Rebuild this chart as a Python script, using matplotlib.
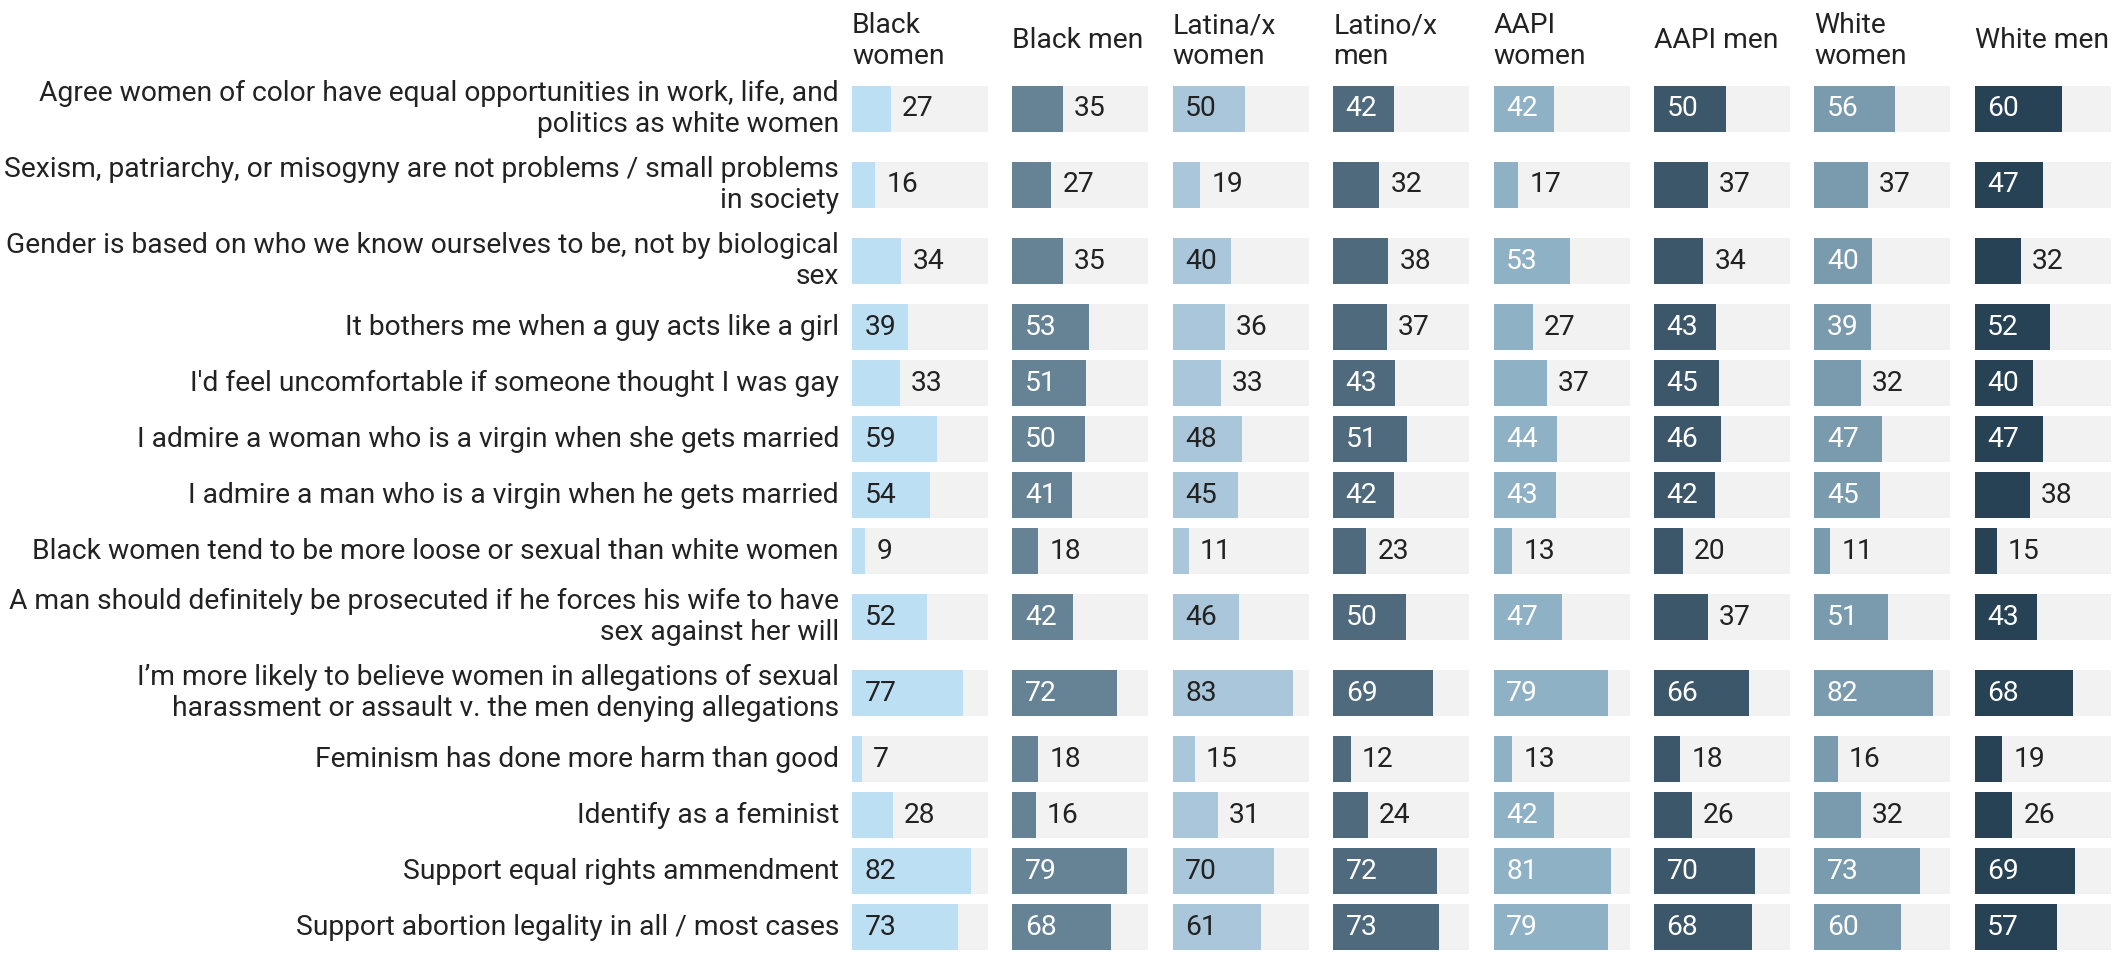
import matplotlib
matplotlib.use("Agg")
import matplotlib.pyplot as plt
import matplotlib.transforms as mtransforms

plt.rcParams['font.family'] = ['Roboto', 'DejaVu Sans']

# ---------------- data ----------------
statements = [
    "Agree women of color have equal opportunities in work, life, and\npolitics as white women",
    "Sexism, patriarchy, or misogyny are not problems / small problems\nin society",
    "Gender is based on who we know ourselves to be, not by biological\nsex",
    "It bothers me when a guy acts like a girl",
    "I'd feel uncomfortable if someone thought I was gay",
    "I admire a woman who is a virgin when she gets married",
    "I admire a man who is a virgin when he gets married",
    "Black women tend to be more loose or sexual than white women",
    "A man should definitely be prosecuted if he forces his wife to have\nsex against her will",
    "I\u2019m more likely to believe women in allegations of sexual\nharassment or assault v. the men denying allegations",
    "Feminism has done more harm than good",
    "Identify as a feminist",
    "Support equal rights ammendment",
    "Support abortion legality in all / most cases",
]

groups = ["Black\nwomen", "Black men", "Latina/x\nwomen", "Latino/x\nmen",
          "AAPI\nwomen", "AAPI men", "White\nwomen", "White men"]

black_women = [27, 16, 34, 39, 33, 59, 54, 9, 52, 77, 7, 28, 82, 73]
black_men = [35, 27, 35, 53, 51, 50, 41, 18, 42, 72, 18, 16, 79, 68]
latina_women = [50, 19, 40, 36, 33, 48, 45, 11, 46, 83, 15, 31, 70, 61]
latino_men = [42, 32, 38, 37, 43, 51, 42, 23, 50, 69, 12, 24, 72, 73]
aapi_women = [42, 17, 53, 27, 37, 44, 43, 13, 47, 79, 13, 42, 81, 79]
aapi_men = [50, 37, 34, 43, 45, 46, 42, 20, 37, 66, 18, 26, 70, 68]
white_women = [56, 37, 40, 39, 32, 47, 45, 11, 51, 82, 16, 32, 73, 60]
white_men = [60, 47, 32, 52, 40, 47, 38, 15, 43, 68, 19, 26, 69, 57]

series = [black_women, black_men, latina_women, latino_men,
          aapi_women, aapi_men, white_women, white_men]

colors = ["#bddff4", "#668396", "#a9c6da", "#4f6a7d",
          "#8fb1c5", "#3d576a", "#7a9aae", "#274254"]
inside_text = ["#222222", "#ffffff", "#222222", "#ffffff",
               "#ffffff", "#ffffff", "#ffffff", "#ffffff"]

# ---------------- layout ----------------
W, H = 2114, 955
DPI = 100
fig = plt.figure(figsize=(W / DPI, H / DPI), dpi=DPI)
fig.patch.set_facecolor("white")

XMAX = 94
FS = 20.3
TXT = "#222222"
LS = 1.15

# row positions (pixel-like units, top = 0)
row_h = [76 if "\n" in s else 56 for s in statements]
centers = []
c = 109.0
for i, h in enumerate(row_h):
    if i > 0:
        c += (row_h[i - 1] + h) / 2.0
    centers.append(c)
BAR_H = 46.5

col_left0 = 852
col_step = 160.4
col_w = 136

axes = []
for j, (grp, vals) in enumerate(zip(groups, series)):
    left = col_left0 + j * col_step
    ax = fig.add_axes([left / W, 0, col_w / W, 1])
    ax.set_xlim(0, XMAX)
    ax.set_ylim(H, 0)
    ax.axis("off")
    ax.barh(centers, [XMAX] * len(centers), height=BAR_H, color="#f2f2f2", zorder=1)
    ax.barh(centers, vals, height=BAR_H, color=colors[j], zorder=2)
    for y, v in zip(centers, vals):
        if v >= 39:
            ax.annotate(str(v), xy=(0, y), xytext=(9, 0), textcoords="offset points",
                        ha="left", va="center", fontsize=FS, color=inside_text[j], zorder=3)
        else:
            ax.annotate(str(v), xy=(v, y), xytext=(8, 0), textcoords="offset points",
                        ha="left", va="center", fontsize=FS, color=TXT, zorder=3)
    ax.text(0, 41, grp, ha="left", va="center", fontsize=FS, color=TXT,
            linespacing=LS)
    axes.append(ax)

# row labels
trans = mtransforms.blended_transform_factory(fig.transFigure, axes[0].transData)
for y, s in zip(centers, statements):
    fig.text(839 / W, y, s, transform=trans, ha="right", va="center",
             multialignment="right", fontsize=FS, color=TXT, linespacing=LS)

fig.savefig("out.png", dpi=DPI, facecolor="white")
